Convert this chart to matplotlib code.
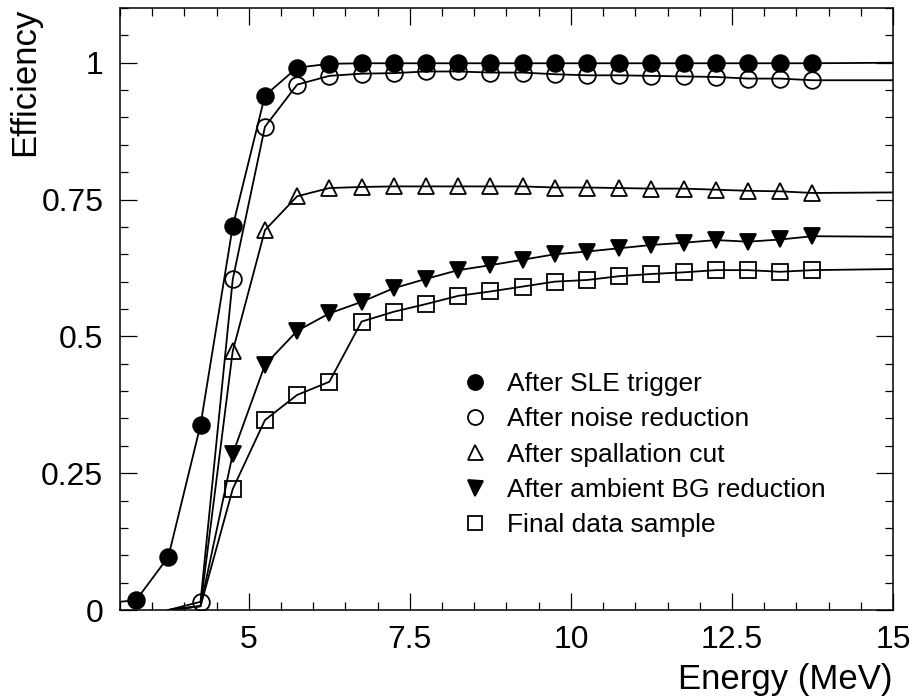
"""Efficiency vs. energy after each reduction step."""
import matplotlib
matplotlib.use("Agg")
import matplotlib.pyplot as plt
from matplotlib.ticker import MultipleLocator, FixedFormatter, FixedLocator

plt.rcParams['font.family'] = ['Liberation Sans', 'DejaVu Sans']

# --- data ---
sle_e = [3.25, 3.75, 4.25, 4.75, 5.25, 5.75, 6.25, 6.75, 7.25, 7.75, 8.25,
         8.75, 9.25, 9.75, 10.25, 10.75, 11.25, 11.75, 12.25, 12.75, 13.25, 13.75]
sle_eff = [0.018, 0.097, 0.338, 0.701, 0.940, 0.991, 0.998, 0.999, 0.999, 0.999, 0.999,
           0.999, 0.999, 0.999, 0.999, 0.999, 0.999, 0.999, 0.999, 0.999, 0.999, 0.999]

noise_e = sle_e[2:]
noise_eff = [0.015, 0.604, 0.883, 0.960, 0.976, 0.980, 0.981, 0.984, 0.984, 0.982,
             0.982, 0.979, 0.977, 0.977, 0.976, 0.975, 0.974, 0.971, 0.971, 0.968]

spall_e = sle_e[3:]
spall_eff = [0.473, 0.694, 0.756, 0.771, 0.773, 0.774, 0.774, 0.774, 0.774, 0.774,
             0.772, 0.772, 0.771, 0.770, 0.770, 0.768, 0.766, 0.765, 0.762]

ambient_e = sle_e[3:]
ambient_eff = [0.285, 0.448, 0.510, 0.542, 0.563, 0.588, 0.605, 0.621, 0.630, 0.640,
               0.650, 0.655, 0.661, 0.667, 0.671, 0.676, 0.673, 0.677, 0.683]

final_e = sle_e[3:]
final_eff = [0.221, 0.347, 0.393, 0.417, 0.527, 0.545, 0.559, 0.574, 0.582, 0.591,
             0.600, 0.603, 0.610, 0.614, 0.617, 0.621, 0.621, 0.618, 0.621]

# curve start points (no marker) and plateau level the fit runs out to 15 MeV
lead_sle = ([3.0], [0.015])
lead_noise = ([3.75], [0.0])
lead_low = ([3.75, 4.25], [0.0, 0.007])
plateau = {'sle': 1.0, 'noise': 0.968, 'spall': 0.763, 'ambient': 0.682, 'final': 0.623}
E_MAX = 15.0

labels = ['After SLE trigger', 'After noise reduction', 'After spallation cut',
          'After ambient BG reduction', 'Final data sample']

fig = plt.figure(figsize=(9.17, 6.98), dpi=100)
ax = fig.add_axes([120/917, 1 - 610/698, 773/917, 602/698])

series = [
    ('sle', sle_e, sle_eff, lead_sle, dict(marker='o', mfc='black')),
    ('noise', noise_e, noise_eff, lead_noise, dict(marker='o', mfc='none')),
    ('spall', spall_e, spall_eff, lead_low, dict(marker='^', mfc='none')),
    ('ambient', ambient_e, ambient_eff, lead_low, dict(marker='v', mfc='black')),
    ('final', final_e, final_eff, lead_low, dict(marker='s', mfc='none', ms=11.5)),
]

handles = []
for (key, xs, ys, lead, mk), lab in zip(series, labels):
    cx = list(lead[0]) + list(xs) + [E_MAX]
    cy = list(lead[1]) + list(ys) + [plateau[key]]
    ax.plot(cx, cy, color='black', lw=1.3, zorder=2)
    kw = dict(ms=12, mec='black', mew=1.3)
    kw.update(mk)
    h, = ax.plot(xs, ys, ls='none', zorder=3, label=lab, **kw)
    handles.append(h)

ax.set_xlim(3, 15)
ax.set_ylim(0, 1.1)
ax.xaxis.set_major_locator(FixedLocator([5, 7.5, 10, 12.5, 15]))
ax.xaxis.set_major_formatter(FixedFormatter(['5', '7.5', '10', '12.5', '15']))
ax.xaxis.set_minor_locator(MultipleLocator(0.5))
ax.yaxis.set_major_locator(FixedLocator([0, 0.25, 0.5, 0.75, 1]))
ax.yaxis.set_major_formatter(FixedFormatter(['0', '0.25', '0.5', '0.75', '1']))
ax.yaxis.set_minor_locator(MultipleLocator(0.05))

ax.tick_params(which='both', direction='in', top=True, right=True, width=0.9)
ax.tick_params(which='major', length=12, labelsize=23)
ax.tick_params(which='minor', length=6)
ax.tick_params(axis='x', which='major', pad=11)
ax.tick_params(axis='y', which='major', pad=12)
for s in ax.spines.values():
    s.set_linewidth(1.1)

ax.set_xlabel('Energy (MeV)', fontsize=25, ha='right', va='top')
ax.xaxis.set_label_coords(1.0, -0.088)
ax.set_ylabel('Efficiency', fontsize=25, ha='right', va='bottom')
ax.yaxis.set_label_coords(-0.102, 1.0)

leg = ax.legend(handles=handles, loc='upper left', bbox_to_anchor=(462/917, 1 - 372/698),
                bbox_transform=fig.transFigure, frameon=False, fontsize=19,
                markerscale=0.9, handlelength=1.0, handletextpad=0.7,
                borderpad=0, borderaxespad=0, labelspacing=0.43)

fig.savefig('out.png', dpi=100, facecolor='white')
